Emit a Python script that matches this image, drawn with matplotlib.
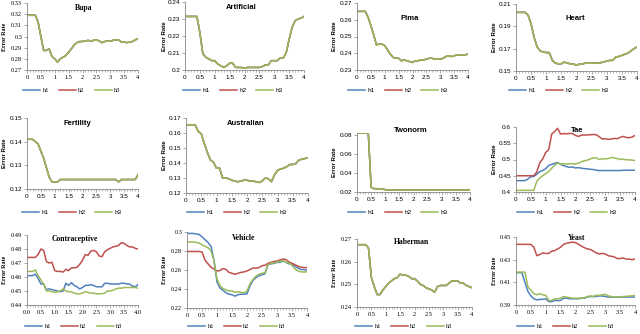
import numpy as np
import matplotlib.pyplot as plt
from matplotlib.ticker import MultipleLocator, FuncFormatter

# lambda values on the x axis
lam = np.round(np.arange(0, 4.01, 0.1), 1)

# single-curve datasets (h1 = h2 = h3)
bupa = [0.319, 0.319, 0.319, 0.319, 0.313, 0.300, 0.2875, 0.2875, 0.289, 0.282, 0.280,
        0.277, 0.280, 0.2815, 0.283, 0.286, 0.289, 0.2925, 0.2945, 0.2955, 0.2955,
        0.296, 0.2965, 0.296, 0.2965, 0.297, 0.296, 0.2945, 0.2955, 0.296, 0.296,
        0.2965, 0.297, 0.297, 0.295, 0.295, 0.2945, 0.295, 0.2955, 0.297, 0.298]
artificial = [0.2315, 0.2315, 0.2315, 0.2315, 0.2315, 0.222, 0.2095, 0.2075, 0.2065, 0.2055, 0.2055,
              0.2035, 0.2025, 0.2015, 0.2025, 0.204, 0.204, 0.2015, 0.2015, 0.2015, 0.201,
              0.2015, 0.2015, 0.2015, 0.2015, 0.2015, 0.202, 0.203, 0.203, 0.2055, 0.2055,
              0.2055, 0.207, 0.207, 0.210, 0.218, 0.225, 0.229, 0.230, 0.2305, 0.2315]
pima = [0.265, 0.265, 0.265, 0.265, 0.2615, 0.2565, 0.251, 0.245, 0.2455, 0.2455, 0.2445,
        0.242, 0.2395, 0.2375, 0.237, 0.237, 0.2355, 0.236, 0.2355, 0.235, 0.2345,
        0.2355, 0.2355, 0.236, 0.236, 0.2365, 0.237, 0.237, 0.2365, 0.2365, 0.2365,
        0.237, 0.238, 0.2385, 0.238, 0.2385, 0.239, 0.239, 0.239, 0.239, 0.2395]
heart = [0.2025, 0.2025, 0.2025, 0.2025, 0.200, 0.192, 0.180, 0.1715, 0.168, 0.167, 0.1665,
         0.1665, 0.1595, 0.157, 0.1565, 0.1565, 0.158, 0.157, 0.1565, 0.156, 0.1555,
         0.156, 0.1565, 0.157, 0.157, 0.157, 0.157, 0.157, 0.1575, 0.158, 0.159,
         0.1595, 0.1595, 0.1625, 0.163, 0.164, 0.165, 0.166, 0.168, 0.170, 0.1715]
fertility = [0.141, 0.141, 0.141, 0.140, 0.139, 0.136, 0.133, 0.129, 0.125, 0.123, 0.123,
             0.123, 0.124, 0.124, 0.124, 0.124, 0.124, 0.124, 0.124, 0.124, 0.124,
             0.124, 0.124, 0.124, 0.124, 0.124, 0.124, 0.124, 0.124, 0.124, 0.124,
             0.124, 0.124, 0.123, 0.124, 0.124, 0.124, 0.124, 0.124, 0.124, 0.126]
australian = [0.1655, 0.1655, 0.1655, 0.1655, 0.161, 0.1595, 0.153, 0.147, 0.142, 0.1405, 0.1365,
              0.1365, 0.130, 0.130, 0.1295, 0.1285, 0.128, 0.1275, 0.128, 0.1285, 0.1285,
              0.128, 0.128, 0.1275, 0.127, 0.128, 0.130, 0.1295, 0.1275, 0.132, 0.135,
              0.136, 0.1365, 0.1375, 0.139, 0.139, 0.1395, 0.142, 0.1425, 0.143, 0.1435]
twonorm = [0.082, 0.082, 0.082, 0.082, 0.082, 0.025, 0.0235, 0.0235, 0.023, 0.023, 0.0225,
           0.0222, 0.022, 0.022, 0.022, 0.022, 0.022, 0.022, 0.022, 0.022, 0.022,
           0.022, 0.022, 0.022, 0.022, 0.022, 0.022, 0.022, 0.022, 0.022, 0.022,
           0.022, 0.022, 0.022, 0.022, 0.022, 0.022, 0.022, 0.022, 0.022, 0.022]
haberman = [0.2675, 0.2675, 0.2675, 0.2675, 0.266, 0.253, 0.249, 0.2455, 0.2455, 0.2475, 0.249,
            0.2505, 0.2515, 0.2525, 0.253, 0.2545, 0.254, 0.254, 0.2535, 0.2525, 0.2525,
            0.2515, 0.250, 0.2495, 0.2485, 0.248, 0.2475, 0.2465, 0.249, 0.2495, 0.2495,
            0.2495, 0.2505, 0.2515, 0.2515, 0.2515, 0.2505, 0.2505, 0.2495, 0.249, 0.2485]

# Tae
tae_h1 = [0.435, 0.435, 0.435, 0.435, 0.440, 0.447, 0.448, 0.455, 0.463, 0.466, 0.472,
          0.482, 0.485, 0.488, 0.491, 0.485, 0.481, 0.478, 0.476, 0.477, 0.474,
          0.475, 0.473, 0.472, 0.471, 0.470, 0.469, 0.467, 0.466, 0.466, 0.466,
          0.466, 0.466, 0.466, 0.466, 0.466, 0.467, 0.467, 0.467, 0.467, 0.467]
tae_h2 = [0.450, 0.450, 0.450, 0.450, 0.450, 0.450, 0.450, 0.462, 0.490, 0.502, 0.522,
          0.530, 0.578, 0.586, 0.596, 0.578, 0.580, 0.579, 0.580, 0.580, 0.574,
          0.571, 0.575, 0.575, 0.576, 0.576, 0.577, 0.576, 0.570, 0.563, 0.564,
          0.562, 0.563, 0.565, 0.564, 0.568, 0.571, 0.568, 0.567, 0.569, 0.574]
tae_h3 = [0.405, 0.405, 0.405, 0.405, 0.405, 0.405, 0.405, 0.433, 0.443, 0.450, 0.457,
          0.463, 0.473, 0.482, 0.489, 0.486, 0.487, 0.486, 0.487, 0.487, 0.486,
          0.489, 0.493, 0.496, 0.498, 0.502, 0.505, 0.505, 0.500, 0.502, 0.502,
          0.503, 0.506, 0.505, 0.503, 0.500, 0.501, 0.499, 0.499, 0.498, 0.497]

# Contraceptive
con_h1 = [0.461, 0.461, 0.461, 0.462, 0.459, 0.455, 0.455, 0.451, 0.4515, 0.451, 0.4505,
          0.450, 0.4495, 0.450, 0.4555, 0.454, 0.456, 0.454, 0.453, 0.4515, 0.4525,
          0.454, 0.454, 0.4545, 0.454, 0.453, 0.453, 0.453, 0.4555, 0.4555, 0.455,
          0.455, 0.455, 0.455, 0.4555, 0.4555, 0.455, 0.455, 0.4535, 0.453, 0.4545]
con_h2 = [0.474, 0.474, 0.474, 0.474, 0.476, 0.480, 0.479, 0.471, 0.470, 0.4705, 0.4645,
          0.464, 0.464, 0.4635, 0.4655, 0.4645, 0.4665, 0.4665, 0.467, 0.469, 0.472,
          0.476, 0.4755, 0.4785, 0.479, 0.478, 0.475, 0.4745, 0.478, 0.4795, 0.4805,
          0.4815, 0.482, 0.4825, 0.4845, 0.484, 0.4825, 0.4815, 0.4815, 0.4805, 0.480]
con_h3 = [0.464, 0.464, 0.464, 0.465, 0.461, 0.458, 0.455, 0.450, 0.450, 0.4495, 0.449,
          0.4495, 0.450, 0.4515, 0.450, 0.4495, 0.4495, 0.4485, 0.448, 0.448, 0.4485,
          0.4495, 0.449, 0.4485, 0.4485, 0.448, 0.448, 0.448, 0.4485, 0.450, 0.450,
          0.4505, 0.4515, 0.452, 0.452, 0.4525, 0.4525, 0.4525, 0.4525, 0.4525, 0.452]

# Vehicle
veh_h1 = [0.2985, 0.2985, 0.2985, 0.298, 0.2975, 0.295, 0.292, 0.289, 0.285, 0.270, 0.2475,
          0.241, 0.2385, 0.236, 0.2345, 0.234, 0.2325, 0.234, 0.2345, 0.2345, 0.235,
          0.2435, 0.249, 0.252, 0.254, 0.255, 0.256, 0.266, 0.2665, 0.267, 0.268,
          0.268, 0.2695, 0.268, 0.2665, 0.2665, 0.264, 0.262, 0.2605, 0.2605, 0.2595]
veh_h2 = [0.2795, 0.2795, 0.2795, 0.2795, 0.2795, 0.279, 0.2705, 0.2665, 0.263, 0.261, 0.259,
          0.2595, 0.2615, 0.2605, 0.2575, 0.2565, 0.2555, 0.2565, 0.2575, 0.258, 0.259,
          0.2605, 0.262, 0.262, 0.2625, 0.2645, 0.265, 0.267, 0.268, 0.269, 0.2695,
          0.2705, 0.2715, 0.271, 0.2685, 0.267, 0.2655, 0.264, 0.263, 0.2625, 0.2625]
veh_h3 = [0.2895, 0.2895, 0.2895, 0.289, 0.2885, 0.2865, 0.285, 0.2835, 0.280, 0.270, 0.2505,
          0.2435, 0.2405, 0.239, 0.238, 0.238, 0.2365, 0.237, 0.2365, 0.236, 0.238,
          0.2455, 0.250, 0.2535, 0.2555, 0.2565, 0.257, 0.2655, 0.267, 0.2675, 0.2685,
          0.269, 0.270, 0.268, 0.2675, 0.265, 0.261, 0.259, 0.258, 0.258, 0.258]

# Yeast
yea_h1 = [0.4185, 0.4185, 0.4185, 0.410, 0.402, 0.398, 0.3955, 0.3945, 0.395, 0.395, 0.3955,
          0.393, 0.393, 0.394, 0.394, 0.394, 0.396, 0.396, 0.3955, 0.3955, 0.3955,
          0.3955, 0.396, 0.396, 0.397, 0.3975, 0.3975, 0.3975, 0.398, 0.398, 0.3975,
          0.397, 0.397, 0.397, 0.397, 0.397, 0.397, 0.397, 0.397, 0.397, 0.397]
yea_h2 = [0.4435, 0.4435, 0.4435, 0.4435, 0.4435, 0.4435, 0.441, 0.4335, 0.4345, 0.436, 0.4355,
          0.4355, 0.4375, 0.438, 0.4395, 0.441, 0.4435, 0.4445, 0.445, 0.4455, 0.445,
          0.4435, 0.442, 0.4405, 0.4395, 0.439, 0.4375, 0.436, 0.435, 0.4355, 0.435,
          0.4335, 0.433, 0.4325, 0.431, 0.431, 0.4315, 0.4305, 0.4305, 0.430, 0.4305]
yea_h3 = [0.419, 0.419, 0.419, 0.419, 0.406, 0.403, 0.400, 0.399, 0.400, 0.399, 0.3985,
          0.394, 0.394, 0.3955, 0.3955, 0.396, 0.3975, 0.397, 0.3965, 0.396, 0.396,
          0.396, 0.396, 0.3965, 0.3975, 0.398, 0.3975, 0.3985, 0.3985, 0.399, 0.3995,
          0.398, 0.3975, 0.397, 0.397, 0.397, 0.3975, 0.3975, 0.398, 0.398, 0.3985]

colors = ['#4F81BD', '#C0504D', '#9BBB59']
labels = ['h1', 'h2', 'h3']

# name, series, axes box in px (L, R, T, B), y ticks (lo, hi, step), y top, title xy, legend xy, ylabel x, serif, xfmt
panels = [
    ('Bupa', [bupa] * 3, (27, 138, 3, 70), (0.27, 0.33, 0.01), 0.33, (84, 4), (72, 90), 5, True, '%g'),
    ('Artificial', [artificial] * 3, (185, 304, 2, 70), (0.2, 0.24, 0.01), 0.24, (241, 4), (233, 90), 164, False, '%g'),
    ('Pima', [pima] * 3, (357, 468, 3, 70), (0.23, 0.27, 0.01), 0.27, (410, 15), (398, 90), 335, False, '%g'),
    ('Heart', [heart] * 3, (516, 637, 4, 71), (0.15, 0.21, 0.02), 0.21, (575, 15), (559, 90), 495, False, '%g'),
    ('Fertility', [fertility] * 3, (27, 138, 118, 189), (0.12, 0.15, 0.01), 0.15, (77, 120), (72, 212), 5, False, '%g'),
    ('Australian', [australian] * 3, (186, 308, 118, 193), (0.12, 0.17, 0.01), 0.17, (246, 120), (237, 212), 164, False, '%g'),
    ('Twonorm', [twonorm] * 3, (357, 470, 133, 192), (0.02, 0.08, 0.02), 0.082, (411, 127), (398, 212), 335, False, '%g'),
    ('Tae', [tae_h1, tae_h2, tae_h3], (516, 635, 127, 192), (0.4, 0.6, 0.05), 0.6, (577, 127), (567, 212), 495, False, '%g'),
    ('Contraceptive', [con_h1, con_h2, con_h3], (27, 138, 235, 305), (0.44, 0.49, 0.01), 0.49, (75, 235), (74, 326), 5, True, '%.1f'),
    ('Vehicle', [veh_h1, veh_h2, veh_h3], (187, 307, 232, 308), (0.22, 0.3, 0.02), 0.3, (244, 234), (237, 326), 164, True, '%g'),
    ('Haberman', [haberman] * 3, (357, 472, 239, 307), (0.24, 0.27, 0.01), 0.27, (412, 238), (404, 326), 335, True, '%g'),
    ('Yeast', [yea_h1, yea_h2, yea_h3], (516, 635, 237, 305), (0.39, 0.45, 0.02), 0.45, (577, 234), (566, 326), 495, True, '%g'),
]

W, H = 640, 334
fig = plt.figure(figsize=(W / 100, H / 100), dpi=100)

for name, series, box, yt, ytop, tpos, lpos, ylx, serif, xfmt in panels:
    L, R, T, B = box
    fam = 'Liberation Serif' if serif else 'Liberation Sans'
    ax = fig.add_axes([L / W, 1 - B / H, (R - L) / W, (B - T) / H])
    for s, c, lb in zip(series, colors, labels):
        ax.plot(lam, s, color=c, lw=1.1, label=lb)
    ax.set_xlim(0, 4)
    ax.set_ylim(yt[0], ytop)
    ax.xaxis.set_major_locator(MultipleLocator(0.5))
    ax.xaxis.set_minor_locator(MultipleLocator(0.1))
    ax.set_yticks(np.round(np.arange(yt[0], yt[1] + yt[2] / 2, yt[2]), 3))
    ax.xaxis.set_major_formatter(FuncFormatter(lambda v, p, f=xfmt: f % v))
    ax.yaxis.set_major_formatter(FuncFormatter(lambda v, p: '%g' % round(v, 3)))
    for sp in ['top', 'right']:
        ax.spines[sp].set_visible(False)
    for sp in ['left', 'bottom']:
        ax.spines[sp].set_color('#868686')
        ax.spines[sp].set_linewidth(0.6)
    ax.tick_params(which='major', length=2, width=0.5, color='#868686', labelsize=4.6, pad=1.5)
    ax.tick_params(which='minor', axis='x', length=1.3, width=0.4, color='#868686')
    for t in ax.get_xticklabels() + ax.get_yticklabels():
        t.set_family(fam)
    fig.text(tpos[0] / W, 1 - tpos[1] / H, name, ha='center', va='top',
             fontsize=5.5, fontweight='bold', family=fam)
    fig.text(ylx / W, 1 - (T + B) / 2 / H, 'Error Rate', rotation=90, ha='center', va='center',
             fontsize=4.3, fontweight='bold', family=fam)
    fig.legend(*ax.get_legend_handles_labels(), loc='center',
               bbox_to_anchor=(lpos[0] / W, 1 - lpos[1] / H), ncol=3, frameon=False,
               handlelength=2.6, handletextpad=0.4, columnspacing=1.6,
               prop={'family': fam, 'size': 4.6})

fig.savefig('out.png', dpi=100)
